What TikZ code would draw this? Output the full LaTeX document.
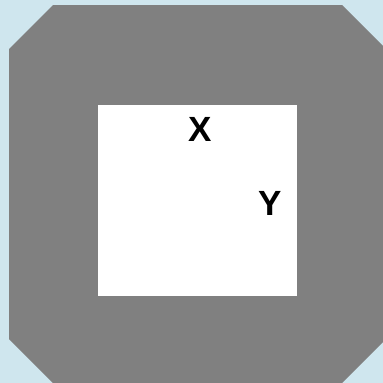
\documentclass[tikz,border=0pt]{standalone}
\usepackage{fontspec}
\setmainfont{Liberation Sans}
\usetikzlibrary{positioning}
\definecolor{sky}{HTML}{CFE6EE}
\definecolor{frame}{HTML}{808080}

\begin{document}
\begin{tikzpicture}[
  x=1pt, y=-1pt,
  hole/.style={fill=white, draw=none, inner sep=0pt,
               minimum width=199pt, minimum height=191pt},
  lbl/.style={font=\fontsize{35}{35}\selectfont\bfseries, inner sep=0pt},
]

%% ================= backdrop =================
\fill[sky] (0,0) rectangle (383,383);
\useasboundingbox (0,0) rectangle (383,383);
\clip (0,0) rectangle (383,383);

%% ================= chamfered frame =================
\fill[frame] (53,5) -- (342,5) -- (386,49) -- (386,339) -- (342,383)
  -- (53,383) -- (9,339) -- (9,49) -- cycle;

%% ================= inner square and labels =================
\node[hole] (win) at (197.5,200.5) {};
\node[lbl] (xlab) at (200,129.5) {X};
\node[lbl] (ylab) at (270.5,203) {Y};

\end{tikzpicture}
\end{document}
